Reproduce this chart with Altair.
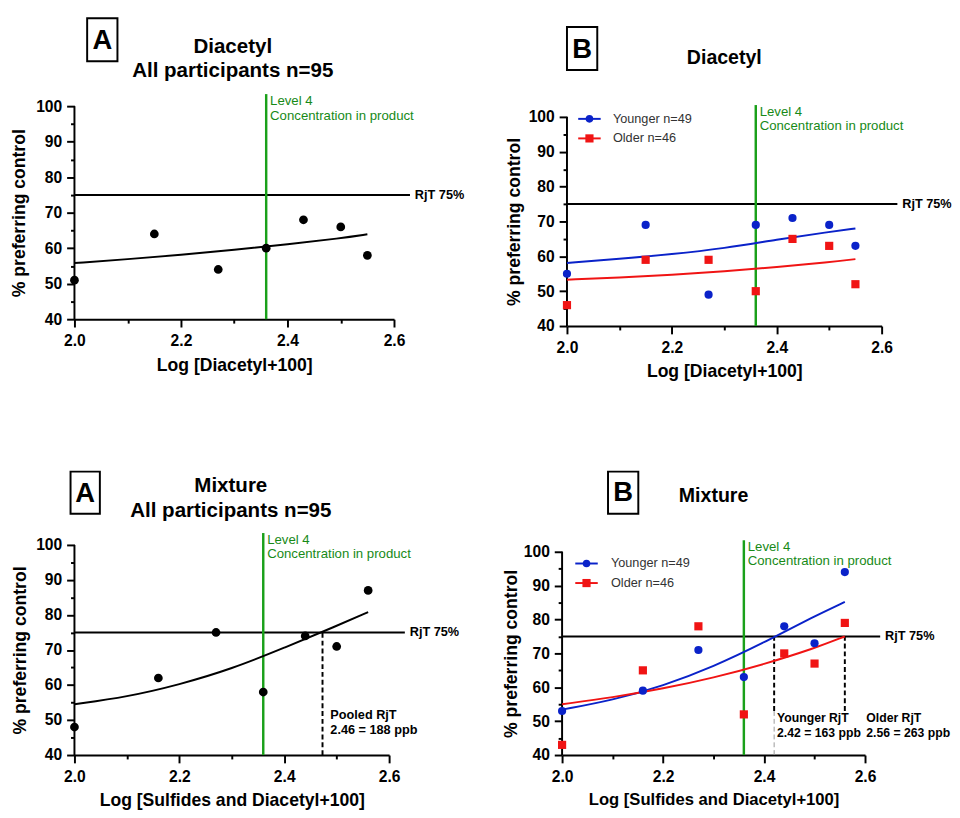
import altair as alt
import pandas as pd

FONT = "Liberation Sans"

# ---------------- data ----------------
dia_x = [2.0, 2.15, 2.27, 2.36, 2.43, 2.50, 2.55]
dia_all = [51, 64, 54, 60, 68, 66, 58]
dia_young = [55, 69, 49, 69, 71, 69, 63]
dia_old = [46, 59, 59, 50, 65, 63, 52]

mix_x = [2.0, 2.16, 2.27, 2.36, 2.44, 2.50, 2.56]
mix_all = [48, 62, 75, 58, 74, 71, 87]
mix_young = [53, 59, 71, 63, 78, 73, 94]
mix_old = [43, 65, 78, 52, 70, 67, 79]

# fitted curves
dia_fit_x = [2.0, 2.1, 2.2, 2.3, 2.4, 2.5, 2.55]
dia_all_fit = [55.8, 56.9, 58.1, 59.5, 61.1, 62.8, 63.9]
dia_young_fit = [58.1, 59.3, 60.6, 62.3, 64.8, 67.0, 68.0]
dia_old_fit = [53.3, 53.9, 54.7, 55.7, 56.9, 58.3, 59.2]

mix_fit_x = [2.0, 2.1, 2.2, 2.3, 2.4, 2.5, 2.56]
mix_all_fit = [54.5, 56.6, 60.1, 64.6, 70.6, 76.9, 80.8]
mix_young_fit = [53.4, 56.2, 60.4, 66.1, 73.2, 81.0, 85.2]
mix_old_fit = [55.0, 57.0, 59.6, 62.8, 66.8, 71.5, 75.0]

groups = ["Younger n=49", "Older n=46"]
group_colors = ["#0a22c9", "#f01414"]
group_shapes = ["circle", "square"]

rjt_level = 75
rjt_line_end = 2.63
level4_x = 2.36
level4_top = 103.4
level4_lines = ["Level 4", "Concentration in product"]
level4_y = [101.4, 97.3]

pooled_rjt_x = 2.473
pooled_text = ["Pooled RjT", "2.46 = 188 ppb"]
young_rjt_x = 2.42
young_text = ["Younger RjT", "2.42 = 163 ppb"]
old_rjt_x = 2.56
old_text = ["Older RjT", "2.56 = 263 ppb"]
annot_y = [50.3, 45.9]
annot_y4 = [49.7, 45.2]

x_ticks = [2.0, 2.1, 2.2, 2.3, 2.4, 2.5, 2.6]
y_ticks = [40, 45, 50, 55, 60, 65, 70, 75, 80, 85, 90, 95, 100]

GREEN = "#1aa01a"
GREEN_TXT = "#178a17"


def x_axis(title, tsize, ty):
    return alt.Axis(
        title=title, values=x_ticks,
        labelExpr="round(datum.value*10) % 2 == 0 ? format(datum.value, '.1f') : ''",
        tickSize={"condition": {"test": "round(datum.value*10) % 2 == 0", "value": 8}, "value": 4},
        labelFlush=False, labelOverlap=False, labelPadding=6, grid=False,
        titleFontSize=tsize, titleY=ty, titleBaseline="alphabetic",
    )


def y_axis(tx, ty):
    return alt.Axis(
        title="% preferring control", values=y_ticks,
        labelExpr="datum.value % 10 == 0 ? datum.label : ''",
        tickSize={"condition": {"test": "datum.value % 10 == 0", "value": 8}, "value": 4},
        labelFlush=False, labelOverlap=False, labelPadding=5, grid=False, domain=False,
        titleX=tx, titleY=ty, titleBaseline="middle", titleAngle=270,
    )


def ptext(text, x, y, size, weight="bold", align="center", baseline="alphabetic", color="black"):
    return alt.Chart(pd.DataFrame({"t": [text]})).mark_text(
        font=FONT, fontSize=size, fontWeight=weight, align=align, baseline=baseline, color=color
    ).encode(x=alt.value(x), y=alt.value(y), text="t:N")


def box(x1, y1, x2, y2):
    return alt.Chart(pd.DataFrame({"a": [0]})).mark_rect(
        fillOpacity=0, stroke="black", strokeWidth=2
    ).encode(x=alt.value(x1), x2=alt.value(x2), y=alt.value(y1), y2=alt.value(y2))


def legend_layers(lx, ly, labx):
    out = []
    for i, (g, c, s) in enumerate(zip(groups, group_colors, group_shapes)):
        yy = ly + 20 * i
        d = pd.DataFrame({"t": [g]})
        out.append(alt.Chart(d).mark_rule(color=c, strokeWidth=2).encode(
            x=alt.value(lx - 11.5), x2=alt.value(lx + 11.5), y=alt.value(yy)))
        out.append(alt.Chart(d).mark_point(filled=True, opacity=1, color=c, shape=s,
                                           size=60 if s == "circle" else 70).encode(
            x=alt.value(lx), y=alt.value(yy)))
        out.append(alt.Chart(d).mark_text(font=FONT, fontSize=13, align="left", baseline="middle",
                                          color="#333333").encode(
            x=alt.value(labx), y=alt.value(yy), text="t:N"))
    return out


def panel(cfg):
    xs = alt.Scale(domain=[2.0, 2.6], nice=False, zero=False)
    ys = alt.Scale(domain=[40, cfg["ytop"]], nice=False, zero=False)
    xa = x_axis(cfg["xtitle"], cfg["xtsize"], cfg["xty"])
    ya = y_axis(cfg["ytx"], cfg["yty"])

    def X(f="x"):
        return alt.X(f"{f}:Q", scale=xs, axis=xa)

    def Y(f="y"):
        return alt.Y(f"{f}:Q", scale=ys, axis=ya)

    layers = []
    layers.append(alt.Chart(pd.DataFrame({"x": [2.0], "y": [40], "y2": [100]})).mark_rule(
        color="black", strokeWidth=2).encode(x=X(), y=Y(), y2="y2:Q"))
    layers.append(alt.Chart(pd.DataFrame({"x": [2.0], "x2": [rjt_line_end], "y": [rjt_level]})).mark_rule(
        color="black", strokeWidth=2).encode(x=X(), x2="x2:Q", y=Y()))
    layers.append(alt.Chart(pd.DataFrame({"x": [rjt_line_end], "y": [rjt_level], "t": ["RjT 75%"]})).mark_text(
        font=FONT, fontSize=13, fontWeight="bold", align="left", baseline="middle", dx=5, color="black"
    ).encode(x=X(), y=Y(), text="t:N"))
    layers.append(alt.Chart(pd.DataFrame({"x": [level4_x], "y": [40], "y2": [level4_top]})).mark_rule(
        color=GREEN, strokeWidth=2.5).encode(x=X(), y=Y(), y2="y2:Q"))
    layers.append(alt.Chart(pd.DataFrame({"x": [level4_x] * 2, "y": level4_y, "t": level4_lines})).mark_text(
        font=FONT, fontSize=13.5, align="left", baseline="middle", dx=4, color=GREEN_TXT
    ).encode(x=X(), y=Y(), text="t:N"))

    for (dx_, y1, y2, col, wdt) in cfg.get("dashes", []):
        layers.append(alt.Chart(pd.DataFrame({"x": [dx_], "y": [y1], "y2": [y2]})).mark_rule(
            color=col, strokeWidth=wdt, strokeDash=[5, 3]).encode(x=X(), y=Y(), y2="y2:Q"))
    for (tx, ty, t, ddx, sz) in cfg.get("annots", []):
        layers.append(alt.Chart(pd.DataFrame({"x": [tx], "y": [ty], "t": [t]})).mark_text(
            font=FONT, fontSize=sz, fontWeight="bold", align="left", baseline="alphabetic", dx=ddx,
            color="black").encode(x=X(), y=Y(), text="t:N"))

    if cfg["kind"] == "all":
        fit = pd.DataFrame({"x": cfg["fit_x"], "y": cfg["fit"]})
        layers.append(alt.Chart(fit).mark_line(color="black", strokeWidth=2, interpolate="basis")
                      .encode(x=X(), y=Y()))
        pts = pd.DataFrame({"x": cfg["px"], "y": cfg["py"]})
        layers.append(alt.Chart(pts).mark_circle(color="black", size=80, opacity=1)
                      .encode(x=X(), y=Y()))
    else:
        fit = pd.concat([
            pd.DataFrame({"x": cfg["fit_x"], "y": cfg["fit_y"], "grp": groups[0]}),
            pd.DataFrame({"x": cfg["fit_x"], "y": cfg["fit_o"], "grp": groups[1]}),
        ])
        cscale = alt.Scale(domain=groups, range=group_colors)
        layers.append(alt.Chart(fit).mark_line(strokeWidth=2, interpolate="basis").encode(
            x=X(), y=Y(), color=alt.Color("grp:N", scale=cscale, legend=None), detail="grp:N"))
        pts = pd.concat([
            pd.DataFrame({"x": cfg["px"], "y": cfg["py_y"], "grp": groups[0]}),
            pd.DataFrame({"x": cfg["px"], "y": cfg["py_o"], "grp": groups[1]}),
        ])
        layers.append(alt.Chart(pts).mark_point(filled=True, opacity=1, size=70).encode(
            x=X(), y=Y(),
            color=alt.Color("grp:N", scale=cscale, legend=None),
            shape=alt.Shape("grp:N", scale=alt.Scale(domain=groups, range=group_shapes), legend=None),
        ))
        layers += legend_layers(cfg["legx"], cfg["legy"], cfg["labx"])

    bx = cfg["box"]
    layers.append(box(*bx))
    layers.append(ptext(cfg["letter"], (bx[0] + bx[2]) / 2, cfg["letter_y"], 28))
    for (t, ty) in cfg["titles"]:
        layers.append(ptext(t, cfg["title_x"], ty, cfg["title_size"]))

    return alt.layer(*layers).properties(width=cfg["w"], height=cfg["h"])


p1 = panel(dict(kind="all", w=327, h=218, ytop=100,
                xtitle="Log [Diacetyl+100]", xtsize=18, xty=53, ytx=-56, yty=109,
                fit_x=dia_fit_x, fit=dia_all_fit, px=dia_x, py=dia_all,
                box=(13, -90, 44, -46), letter="A", letter_y=-58,
                titles=[("Diacetyl", -54.7), ("All participants n=95", -30.3)], title_x=162, title_size=21))

p2 = panel(dict(kind="grp", w=322, h=225, ytop=100 + 11 * 60 / 214,
                xtitle="Log [Diacetyl+100]", xtsize=18, xty=52, ytx=-54, yty=118,
                fit_x=dia_fit_x, fit_y=dia_young_fit, fit_o=dia_old_fit,
                px=dia_x, py_y=dia_young, py_o=dia_old,
                legx=23, legy=13, labx=47,
                box=(0, -81, 31, -37), letter="B", letter_y=-49,
                titles=[("Diacetyl", -42.7)], title_x=161, title_size=20))

p3 = panel(dict(kind="all", w=322, h=215, ytop=100,
                xtitle="Log [Sulfides and Diacetyl+100]", xtsize=18, xty=52, ytx=-55, yty=107.5,
                fit_x=mix_fit_x, fit=mix_all_fit, px=mix_x, py=mix_all,
                dashes=[(pooled_rjt_x, 40, rjt_level, "black", 2)],
                annots=[(pooled_rjt_x, annot_y[0], pooled_text[0], 8, 13),
                        (pooled_rjt_x, annot_y[1], pooled_text[1], 8, 13)],
                box=(-4, -75, 26, -32), letter="A", letter_y=-44,
                titles=[("Mixture", -53.7), ("All participants n=95", -28.7)], title_x=160, title_size=21))

p4 = panel(dict(kind="grp", w=310, h=215, ytop=100 + 7 * 60 / 208,
                xtitle="Log [Sulfides and Diacetyl+100]", xtsize=17, xty=51, ytx=-52, yty=111,
                fit_x=mix_fit_x, fit_y=mix_young_fit, fit_o=mix_old_fit,
                px=mix_x, py_y=mix_young, py_o=mix_old,
                dashes=[(young_rjt_x, 53, rjt_level, "black", 2), (young_rjt_x, 40, 53, "#9a9a9a", 1),
                        (old_rjt_x, 53, rjt_level, "black", 2)],
                annots=[(young_rjt_x, annot_y4[0], young_text[0], 3, 12.5),
                        (young_rjt_x, annot_y4[1], young_text[1], 3, 12.5),
                        (old_rjt_x, annot_y4[0], old_text[0], 22, 12.5),
                        (old_rjt_x, annot_y4[1], old_text[1], 22, 12.5)],
                legx=25, legy=19, labx=50,
                box=(47, -75, 78, -32), letter="B", letter_y=-44.5,
                titles=[("Mixture", -44.3)], title_x=155, title_size=20))

row1 = alt.hconcat(p1, p2, spacing=42)
row2 = alt.hconcat(p3, p4, spacing=44)
chart = alt.vconcat(row1, row2, spacing=92).properties(
    padding={"left": 3, "top": 0, "right": 0, "bottom": 0}
).configure(font=FONT, background="white").configure_view(stroke=None).configure_axis(
    domainColor="black", domainWidth=2, tickColor="black", tickWidth=2,
    labelFont=FONT, labelFontSize=16, labelFontWeight="bold", labelColor="black",
    titleFont=FONT, titleFontSize=18, titleFontWeight="bold", titleColor="black",
)

chart.save("out.html", embed_options={"renderer": "svg", "actions": False})
